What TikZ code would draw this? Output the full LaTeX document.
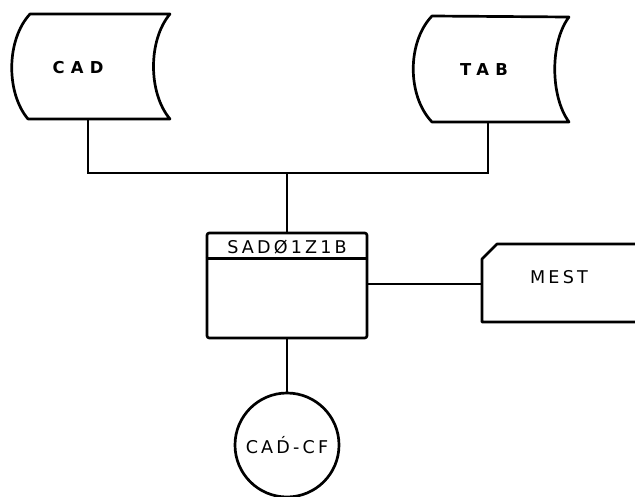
\documentclass[tikz,border=0pt]{standalone}
\usepackage{fontspec}
\setmainfont{DejaVu Sans}
\newfontfamily\lblfont[LetterSpace=18]{DejaVu Sans}
\usetikzlibrary{calc}

\begin{document}
\begin{tikzpicture}[%
  x=0.03cm, y=-0.03cm,
  line/.style = {line width=2.3pt},
  store/.style = {line width=2.3pt, line join=round},
  lbl/.style = {font=\lblfont\fontsize{15}{17}\selectfont, inner sep=0pt},
  bold/.style = {inner sep=0pt,
    font=\lblfont\bfseries\addfontfeature{LetterSpace=38}\fontsize{14}{16}\selectfont},
]

  \useasboundingbox (0,0) rectangle (635,496);

  % stored data
  \draw[store] (30,14) -- (170,14) .. controls (148,40) and (148,93) .. (170,119)
    -- (28,119) .. controls (6,93) and (6,40) .. (30,14) -- cycle;
  \draw[store] (432,16) -- (569,17) .. controls (550,42) and (550,96) .. (569,122)
    -- (432,122) .. controls (407,96) and (407,42) .. (432,16) -- cycle;
  \node[bold] (cad) at (78,68) {CAD};
  \node[bold] (tab) at (484,70) {TAB};

  \coordinate (cadfoot) at (88,119);
  \coordinate (tabfoot) at (488,122);
  \coordinate (cadknee) at (88,173);
  \coordinate (tabknee) at (488,173);
  \coordinate (join) at (287,173);

  % program
  \node[draw, line width=2.3pt, rounded corners=2pt, lbl, minimum width=4.8cm,
    minimum height=3.15cm, inner ysep=0.15cm, text height=0.45cm,
    text depth=2.4cm] (sad) at (287,285.5) {SADØ1Z1B};
  \draw[line] ($(sad.north west)+(0,27)$) coordinate (hdl)
    -- ($(sad.north east)+(0,27)$) coordinate (hdr);

  % card
  \coordinate (mestin) at (482,284);
  \draw[store] (635,244) -- (497,244) -- (482,259) -- (482,322) -- (635,322);
  \node[lbl] (mest) at (559,277) {MEST};

  % connector
  \node[draw, circle, line width=2.3pt, minimum size=3.12cm, lbl]
    (cadcf) at (287,445) {CAD́-CF};

  \draw[line] (cadfoot) -- (cadknee) -- (tabknee) -- (tabfoot);
  \draw[line] (join) -- (sad.north);
  \draw[line] (sad.east |- mestin) -- (mestin);
  \draw[line] (sad.south) -- (cadcf.north);

\end{tikzpicture}
\end{document}
